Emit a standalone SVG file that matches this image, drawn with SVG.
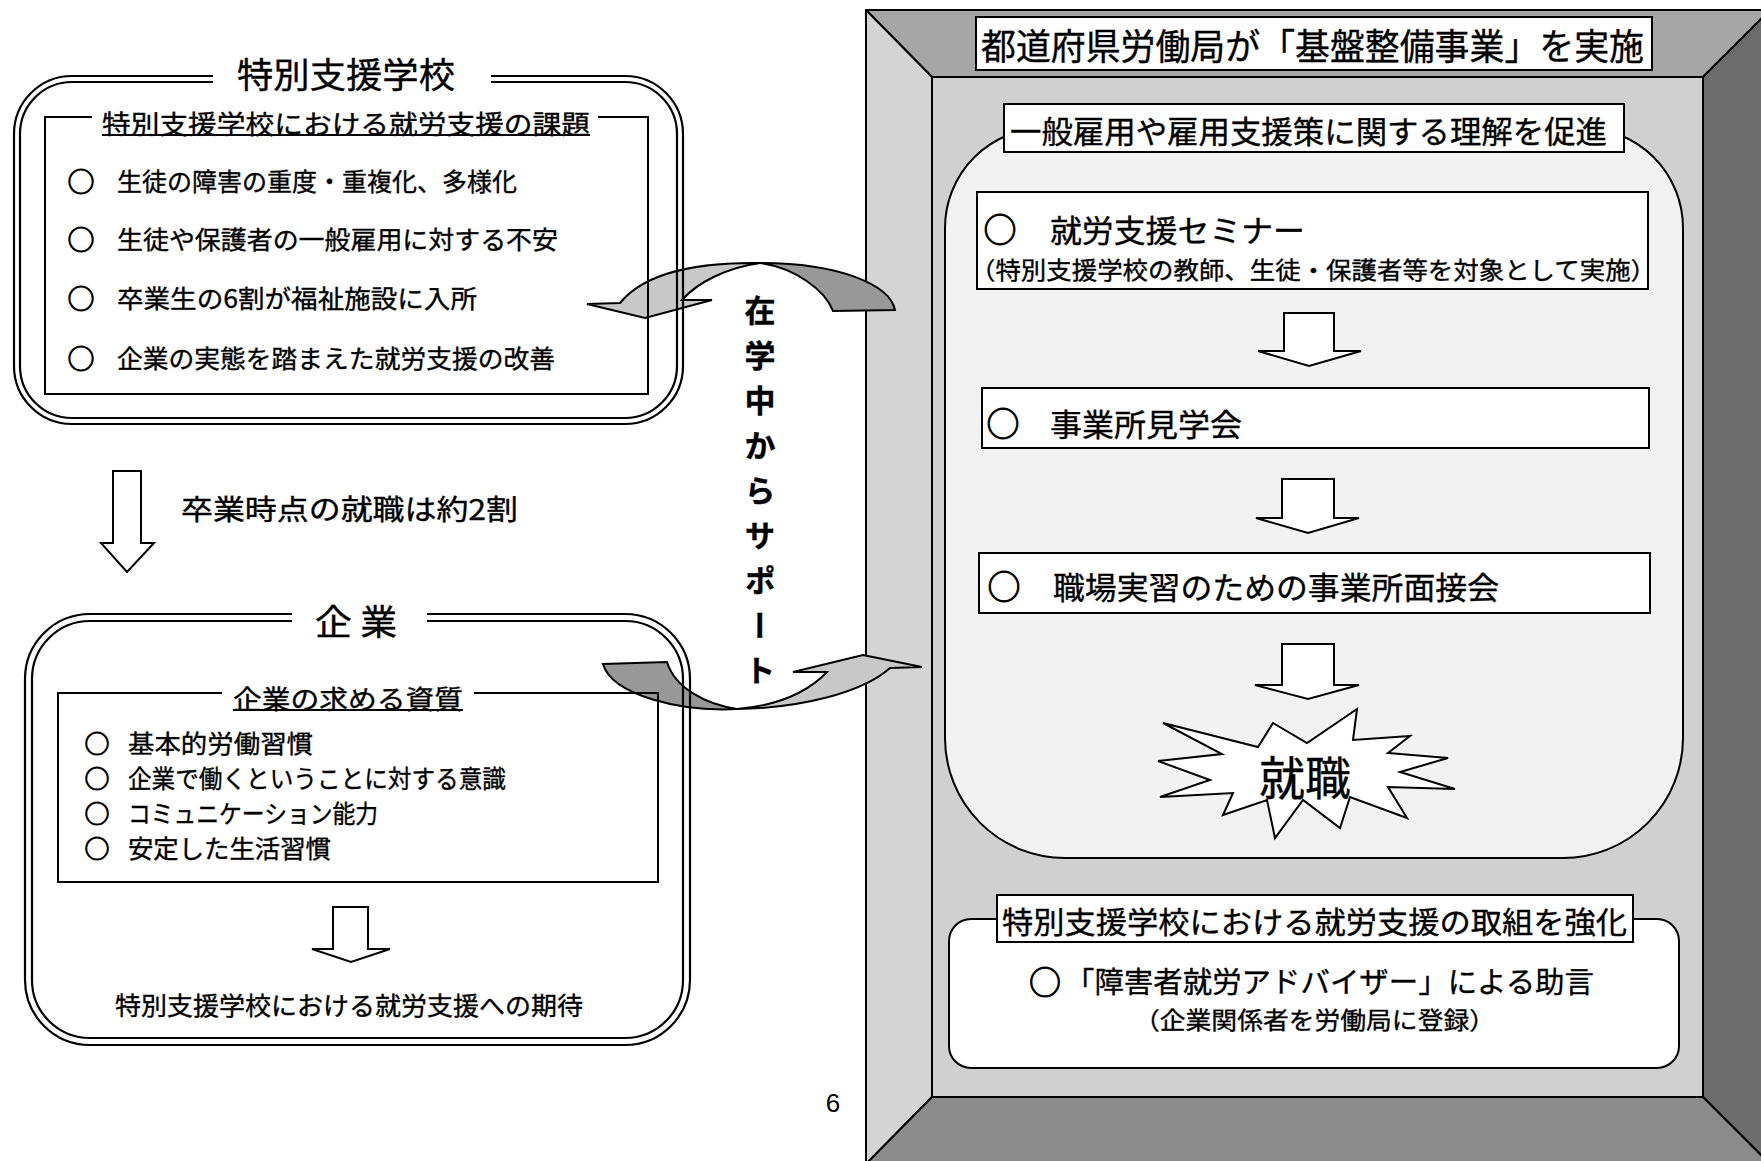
<svg xmlns="http://www.w3.org/2000/svg" width="1761" height="1161" viewBox="0 0 1761 1161">
<style>
  .t { font-family: "Noto Sans CJK JP", "Noto Sans CJK SC", sans-serif; fill: #000; stroke: #000; stroke-width: 0.35; dominant-baseline: central; }
  .b { font-family: "Noto Sans CJK JP", "Noto Sans CJK SC", sans-serif; fill: #000; stroke: #000; stroke-width: 1; dominant-baseline: central; text-anchor: middle; }
  .ln { fill: none; stroke: #000; stroke-width: 2; }
  .dl { fill: none; stroke: #000; stroke-width: 2.2; }
  .wb { fill: #fff; stroke: #000; stroke-width: 2; }
  .fr { stroke: #000; stroke-width: 2; stroke-linejoin: round; }
  .blk { fill: #fff; stroke: #000; stroke-width: 2; stroke-linejoin: miter; }
  .cl { fill: #c8c8c8; stroke: #000; stroke-width: 2; stroke-linejoin: miter; }
  .cd { fill: #989898; stroke: #000; stroke-width: 2; stroke-linejoin: miter; }
</style>
<rect x="0" y="0" width="1761" height="1161" fill="#fff"/>

<g id="frame">
  <polygon class="fr" fill="#a6a6a6" points="866,10 1770,10 1703,77 932,77"/>
  <polygon class="fr" fill="#d4d4d4" points="866,10 932,77 932,1097 866,1164"/>
  <polygon class="fr" fill="#6c6c6c" points="1770,10 1703,77 1703,1097 1770,1164"/>
  <polygon class="fr" fill="#8c8c8c" points="932,1097 1703,1097 1770,1164 866,1164"/>
  <rect class="fr" fill="#d0d0d0" x="932" y="77" width="771" height="1020"/>
  <rect class="wb" x="976" y="17" width="676" height="53"/>
  <text class="t" x="981" y="44" font-size="36" textLength="663" lengthAdjust="spacingAndGlyphs">都道府県労働局が「基盤整備事業」を実施</text>
</g>

<g id="promote-panel">
  <path d="M 1045,128 H 1583 A 100 100 0 0 1 1683,228 V 738 A 120 120 0 0 1 1563,858 H 1065 A 120 120 0 0 1 945,738 V 228 A 100 100 0 0 1 1045,128 Z" fill="#f2f2f2" stroke="#000" stroke-width="2"/>
  <rect class="wb" x="1004" y="104" width="620" height="48"/>
  <text class="t" x="1010" y="129" font-size="31" textLength="597" lengthAdjust="spacingAndGlyphs">一般雇用や雇用支援策に関する理解を促進</text>
</g>

<g id="seminar">
  <rect class="wb" x="977" y="192" width="671" height="97"/>
  <text class="b" x="1000" y="228" font-size="33">○</text>
  <text class="t" x="1050" y="228" font-size="31" textLength="255" lengthAdjust="spacingAndGlyphs">就労支援セミナー</text>
  <text class="t" x="970" y="268" font-size="24" textLength="686" lengthAdjust="spacingAndGlyphs">（特別支援学校の教師、生徒・保護者等を対象として実施）</text>
</g>

<g id="visit">
  <rect class="wb" x="982" y="388" width="667" height="60"/>
  <text class="b" x="1003" y="422" font-size="33">○</text>
  <text class="t" x="1050" y="422" font-size="31" textLength="192" lengthAdjust="spacingAndGlyphs">事業所見学会</text>
</g>

<g id="interview">
  <rect class="wb" x="979" y="553" width="671" height="60"/>
  <text class="b" x="1004" y="585" font-size="33">○</text>
  <text class="t" x="1053" y="585" font-size="31" textLength="446" lengthAdjust="spacingAndGlyphs">職場実習のための事業所面接会</text>
</g>

<g id="shushoku">
  <polygon class="blk" points="1163,723 1258,747 1273,723 1307,743 1357,709 1353,740 1410,736 1388,753 1448,758 1400,772 1455,789 1388,787 1407,818 1350,797 1340,828 1303,800 1275,838 1267,800 1223,815 1233,793 1160,797 1210,780 1158,761 1222,754"/>
  <text class="t" x="1305" y="775" font-size="46" text-anchor="middle">就職</text>
</g>

<g id="strengthen">
  <rect class="wb" x="949" y="919" width="730" height="149" rx="22" ry="22"/>
  <rect class="wb" x="997" y="895" width="636" height="47"/>
  <text class="t" x="1002" y="920" font-size="30" textLength="625" lengthAdjust="spacingAndGlyphs">特別支援学校における就労支援の取組を強化</text>
  <text class="b" x="1045" y="980" font-size="32">○</text>
  <text class="t" x="1065" y="980" font-size="29" textLength="529" lengthAdjust="spacingAndGlyphs">「障害者就労アドバイザー」による助言</text>
  <text class="t" x="1134" y="1018" font-size="24" textLength="361" lengthAdjust="spacingAndGlyphs">（企業関係者を労働局に登録）</text>
</g>

<g id="connectors">
  <polygon class="blk" points="1284,313 1334,313 1334,351 1361,351 1309,366 1258,351 1284,351"/>
  <polygon class="blk" points="1282,479 1334,479 1334,518 1359,518 1308,533 1256,518 1282,518"/>
  <polygon class="blk" points="1282,644 1334,644 1334,685 1359,685 1308,699 1255,685 1282,685"/>
  <polygon class="blk" points="113,471 141,471 141,543 154,543 127,572 101,543 113,543"/>
  <polygon class="blk" points="333,907 368,907 368,949 390,949 351,962 312,949 333,949"/>
  <path class="cd" d="M 760,263 C 840,263 890,285 895,310 L 833,311 C 825,290 795,268 760,263 Z"/>
  <path class="cl" d="M 620,303 C 645,272 700,262 760,263 C 725,268 697,283 682,300 L 712,300 L 645,318 L 587,304 Z"/>
  <path class="cd" d="M 603,664 L 667,662 C 675,688 705,704 737,709 C 680,712 612,695 603,664 Z"/>
  <path class="cl" d="M 737,709 C 800,708 862,693 890,668 L 922,667 L 863,655 L 793,672 L 827,672 C 805,695 772,706 737,709 Z"/>
</g>

<g id="school">
  <path class="dl" d="M 491,76 H 625 A 58 58 0 0 1 683,134 V 366 A 58 58 0 0 1 625,424 H 72 A 58 58 0 0 1 14,366 V 134 A 58 58 0 0 1 72,76 H 213"/>
  <path class="dl" d="M 491,82 H 625 A 52 52 0 0 1 677,134 V 366 A 52 52 0 0 1 625,418 H 72 A 52 52 0 0 1 20,366 V 134 A 52 52 0 0 1 72,82 H 213"/>
  <text class="t" x="237" y="72" font-size="35" textLength="218" lengthAdjust="spacingAndGlyphs">特別支援学校</text>
  <path class="ln" d="M 598,117 H 648 V 394 H 45 V 117 H 92"/>
  <text class="t" x="102" y="122" font-size="26" textLength="488" lengthAdjust="spacingAndGlyphs">特別支援学校における就労支援の課題</text>
  <line x1="102" y1="135" x2="590" y2="135" stroke="#000" stroke-width="2"/>
  <text class="b" x="81" y="180" font-size="27">○</text>
  <text class="t" x="117" y="180" font-size="25" textLength="400" lengthAdjust="spacingAndGlyphs">生徒の障害の重度・重複化、多様化</text>
  <text class="b" x="81" y="238" font-size="27">○</text>
  <text class="t" x="117" y="238" font-size="25" textLength="441" lengthAdjust="spacingAndGlyphs">生徒や保護者の一般雇用に対する不安</text>
  <text class="b" x="81" y="297" font-size="27">○</text>
  <text class="t" x="117" y="297" font-size="25" textLength="360" lengthAdjust="spacingAndGlyphs">卒業生の6割が福祉施設に入所</text>
  <text class="b" x="81" y="357" font-size="27">○</text>
  <text class="t" x="117" y="357" font-size="25" textLength="438" lengthAdjust="spacingAndGlyphs">企業の実態を踏まえた就労支援の改善</text>
</g>

<g id="graduation-note">
  <text class="t" x="181" y="508" font-size="28" textLength="337" lengthAdjust="spacingAndGlyphs">卒業時点の就職は約2割</text>
</g>

<g id="company">
  <path class="dl" d="M 427,614 H 625 A 65 65 0 0 1 690,679 V 980 A 65 65 0 0 1 625,1045 H 90 A 65 65 0 0 1 25,980 V 679 A 65 65 0 0 1 90,614 H 292"/>
  <path class="dl" d="M 427,621 H 625 A 58 58 0 0 1 683,679 V 980 A 58 58 0 0 1 625,1038 H 90 A 58 58 0 0 1 32,980 V 679 A 58 58 0 0 1 90,621 H 292"/>
  <text class="t" x="315" y="619" font-size="35" textLength="82" lengthAdjust="spacingAndGlyphs">企 業</text>
  <path class="ln" d="M 474,693 H 658 V 882 H 58 V 693 H 222"/>
  <text class="t" x="233" y="697" font-size="26" textLength="230" lengthAdjust="spacingAndGlyphs">企業の求める資質</text>
  <line x1="233" y1="710" x2="463" y2="710" stroke="#000" stroke-width="2"/>
  <text class="b" x="97" y="742" font-size="25">○</text>
  <text class="t" x="128" y="742" font-size="25" textLength="185" lengthAdjust="spacingAndGlyphs">基本的労働習慣</text>
  <text class="b" x="97" y="777" font-size="25">○</text>
  <text class="t" x="128" y="777" font-size="25" textLength="378" lengthAdjust="spacingAndGlyphs">企業で働くということに対する意識</text>
  <text class="b" x="97" y="812" font-size="25">○</text>
  <text class="t" x="128" y="812" font-size="25" textLength="250" lengthAdjust="spacingAndGlyphs">コミュニケーション能力</text>
  <text class="b" x="97" y="847" font-size="25">○</text>
  <text class="t" x="128" y="847" font-size="25" textLength="203" lengthAdjust="spacingAndGlyphs">安定した生活習慣</text>
  <text class="t" x="115" y="1004" font-size="25" textLength="468" lengthAdjust="spacingAndGlyphs">特別支援学校における就労支援への期待</text>
</g>

<g id="support-text">
  <text class="t" x="760" y="295" font-size="31" font-weight="bold" letter-spacing="14" style="writing-mode: vertical-rl;">在学中からサポート</text>
</g>

<text x="833" y="1112" font-family="'Liberation Sans', Arial, sans-serif" font-size="26" text-anchor="middle">6</text>
</svg>
